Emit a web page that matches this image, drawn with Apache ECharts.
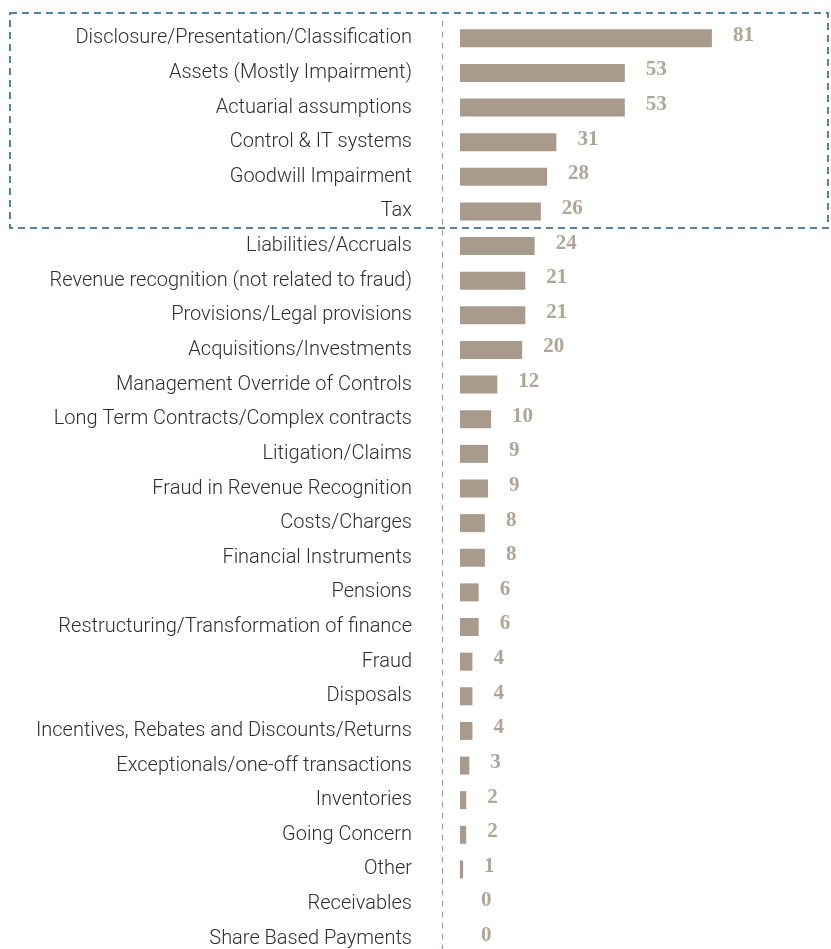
<!DOCTYPE html>
<html lang="en">
<head>
    <meta charset="UTF-8">
    <title>audit issues</title>
    <script src="https://cdn.jsdelivr.net/npm/echarts@6/dist/echarts.min.js"></script>
    <style type="text/css">
        html, body {
            margin: 0;
            padding: 0;
            background: #ffffff;
            overflow: hidden;
        }
    </style>
</head>
<body>
<div id="main" style="width: 831px;height:956px;"></div>
<script>
    // categories top -> bottom
    var categories = [
        'Disclosure/Presentation/Classification',
        'Assets (Mostly Impairment)',
        'Actuarial assumptions',
        'Control & IT systems',
        'Goodwill Impairment',
        'Tax',
        'Liabilities/Accruals',
        'Revenue recognition (not related to fraud)',
        'Provisions/Legal provisions',
        'Acquisitions/Investments',
        'Management Override of Controls',
        'Long Term Contracts/Complex contracts',
        'Litigation/Claims',
        'Fraud in Revenue Recognition',
        'Costs/Charges',
        'Financial Instruments',
        'Pensions',
        'Restructuring/Transformation of finance',
        'Fraud',
        'Disposals',
        'Incentives, Rebates and Discounts/Returns',
        'Exceptionals/one-off transactions',
        'Inventories',
        'Going Concern',
        'Other',
        'Receivables',
        'Share Based Payments'
    ];
    var counts = [81, 53, 53, 31, 28, 26, 24, 21, 21, 20, 12, 10, 9, 9, 8, 8, 6, 6, 4, 4, 4, 3, 2, 2, 1, 0, 0];

    var myChart = echarts.init(document.getElementById('main'));

    var option = {
        animation: false,
        grid: {
            left: 460,
            right: 60,
            top: 21,
            bottom: 0,
            containLabel: false
        },
        xAxis: {
            type: 'value',
            min: 0,
            max: 100,
            show: false,
            splitLine: {show: false}
        },
        yAxis: {
            type: 'category',
            inverse: true,
            data: categories,
            offset: 18,
            axisTick: {show: false},
            axisLine: {
                show: true,
                onZero: false,
                lineStyle: {color: '#a79c90', type: [5, 6], width: 1.2}
            },
            axisLabel: {
                margin: 30,
                color: '#2e2e2e',
                fontFamily: 'Roboto',
                fontWeight: 300,
                fontSize: 20
            }
        },
        // highlighted block (top six)
        graphic: [{
            type: 'rect',
            shape: {x: 10, y: 13, width: 818, height: 215},
            style: {
                fill: 'none',
                stroke: '#1b5a86',
                lineWidth: 1.5,
                lineDash: [7, 5]
            },
            silent: true
        }],
        series: [{
            type: 'bar',
            data: counts,
            barWidth: 18,
            itemStyle: {color: '#a89b8c'},
            label: {
                show: true,
                position: 'right',
                distance: 21,
                offset: [0, -3],
                color: '#b0a596',
                fontFamily: 'Liberation Serif',
                fontWeight: 'bold',
                fontSize: 21
            }
        }]
    };

    myChart.setOption(option);
</script>
</body>
</html>
